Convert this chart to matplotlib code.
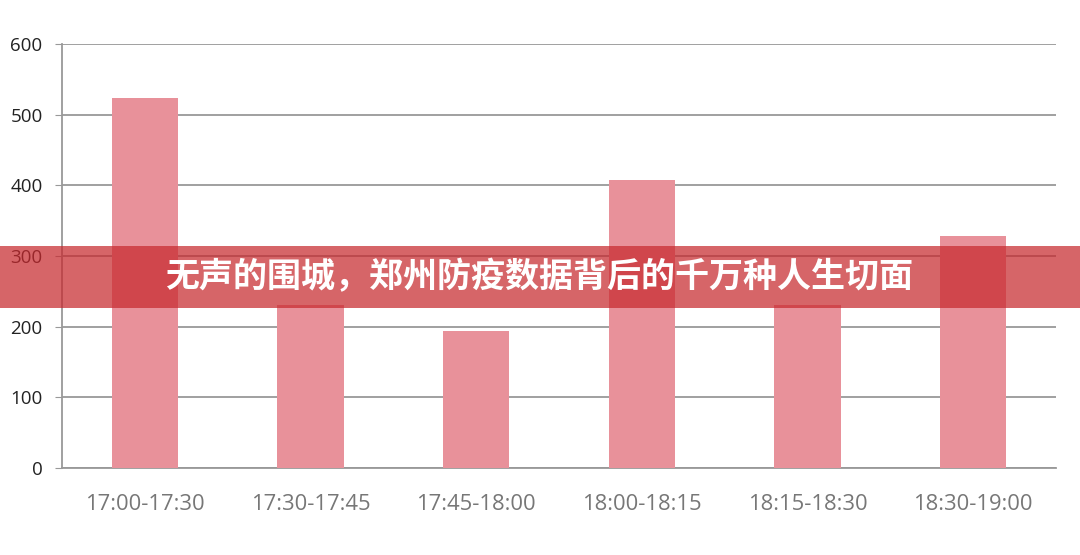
import matplotlib
matplotlib.use("Agg")
import matplotlib.pyplot as plt
from matplotlib.patches import Rectangle

# time windows and counts
categories = ["17:00-17:30", "17:30-17:45", "17:45-18:00",
              "18:00-18:15", "18:15-18:30", "18:30-19:00"]
values = [524, 231, 194, 408, 231, 328]
yticks = [0, 100, 200, 300, 400, 500, 600]
title = "无声的围城，郑州防疫数据背后的千万种人生切面"

plt.rcParams['font.family'] = ['Open Sans', 'DejaVu Sans']

fig = plt.figure(figsize=(10.8, 5.55), dpi=100)
ax = fig.add_axes([0.0574, 0.1568, 0.9204, 0.7639])

x = list(range(len(categories)))
ax.bar(x, values, width=0.4, color='#E8919A', zorder=3)

ax.set_xlim(-0.5, len(categories) - 0.5)
ax.set_ylim(0, 600)
ax.set_yticks(yticks)
ax.set_yticklabels([str(t) for t in yticks], fontsize=13.5, color='#222222')
ax.set_xticks(x)
ax.set_xticklabels(categories, fontsize=15.8, color='#777777')
ax.tick_params(axis='y', length=5, color='#999999', pad=9)
ax.tick_params(axis='x', length=0, pad=19)
ax.grid(axis='y', color='#999999', linewidth=1.3, zorder=1)
for s in ['top', 'right']:
    ax.spines[s].set_visible(False)
ax.spines['left'].set_color('#999999')
ax.spines['bottom'].set_color('#999999')
ax.spines['left'].set_linewidth(1.3)
ax.spines['bottom'].set_linewidth(1.3)

# red banner across the middle with the headline
fig.patches.append(Rectangle((0, 0.445), 1, 0.112, transform=fig.transFigure,
                             facecolor=(0.78, 0.16, 0.18), alpha=0.72,
                             edgecolor='none', zorder=10))
fig.text(0.4995, 0.501, title, ha='center', va='center', color='white',
         fontsize=24.5, fontweight='heavy',
         family=['Noto Sans CJK SC', 'DejaVu Sans'], zorder=11)

fig.savefig("out.png", dpi=100)
